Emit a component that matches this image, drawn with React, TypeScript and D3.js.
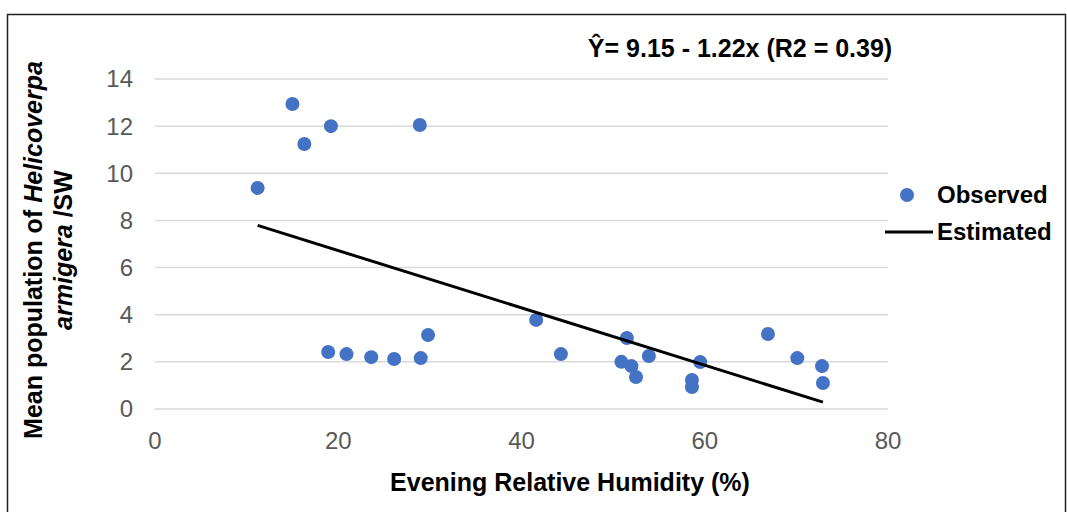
import React from "react";
import * as d3 from "d3";

// Evening relative humidity (%) against mean larval count per sweep
const humidity = [
  11.2, 15.0, 16.3, 19.2, 28.9, 18.9, 20.9, 23.6, 26.1, 29.0, 29.8, 41.6, 44.3,
  51.5, 50.9, 52.0, 52.5, 53.9, 58.6, 58.6, 59.5, 66.9, 70.1, 72.8, 72.9,
];
const population = [
  9.38, 12.94, 11.24, 12.0, 12.05, 2.42, 2.33, 2.2, 2.12, 2.16, 3.14, 3.78, 2.33,
  3.01, 2.0, 1.82, 1.36, 2.25, 1.23, 0.93, 1.99, 3.18, 2.16, 1.82, 1.1,
];

// Fitted line end points
const estimatedX = [11.2, 72.9];
const estimatedY = [7.79, 0.29];

const xTicks = [0, 20, 40, 60, 80];
const yTicks = [0, 2, 4, 6, 8, 10, 12, 14];

const equation = "\u0176= 9.15 - 1.22x (R2 = 0.39)";
const xTitle = "Evening Relative Humidity (%)";
const legendLabels = ["Observed", "Estimated"];

const W = 1067;
const H = 512;
const FONT = "'Liberation Sans', Arial, sans-serif";
const BLUE = "#4472C4";

export default function App() {
  const x = d3.scaleLinear().domain([0, 80]).range([155, 888]);
  const y = d3.scaleLinear().domain([0, 14]).range([409, 79]);
  const line = d3
    .line<number>()
    .x((d) => x(d))
    .y((_, i) => y(estimatedY[i]));

  return (
    <svg
      width={W}
      height={H}
      style={{ position: "absolute", left: 0, top: 0, background: "#fff" }}
      fontFamily={FONT}
    >
      <rect x={0} y={0} width={W} height={H} fill="#fff" />
      <rect x={7.5} y={14.5} width={1058} height={520} fill="none" stroke="#222" strokeWidth={1.5} />

      {/* horizontal gridlines */}
      {yTicks.map((t) => (
        <line key={t} x1={x(0)} x2={x(80)} y1={y(t)} y2={y(t)} stroke="#d9d9d9" strokeWidth={1.5} />
      ))}

      {/* y tick labels */}
      {yTicks.map((t) => (
        <text key={t} x={133} y={y(t)} dy="0.35em" textAnchor="end" fontSize={24} fill="#595959">
          {t}
        </text>
      ))}

      {/* x tick labels */}
      {xTicks.map((t) => (
        <text key={t} x={x(t)} y={449} textAnchor="middle" fontSize={24} fill="#595959">
          {t}
        </text>
      ))}

      {/* observed points */}
      {humidity.map((h, i) => (
        <circle key={i} cx={x(h)} cy={y(population[i])} r={7} fill={BLUE} />
      ))}

      {/* estimated line */}
      <path d={line(estimatedX) || ""} fill="none" stroke="#000" strokeWidth={3} />

      {/* equation */}
      <text x={740} y={57} textAnchor="middle" fontSize={25} fontWeight="bold" fill="#000">
        {equation}
      </text>

      {/* axis titles */}
      <text x={570} y={491} textAnchor="middle" fontSize={25} fontWeight="bold" fill="#000">
        {xTitle}
      </text>
      <g transform="translate(42,250) rotate(-90)">
        <text x={0} y={0} textAnchor="middle" fontSize={25} fontWeight="bold" fill="#000">
          Mean population of <tspan fontStyle="italic">Helicoverpa</tspan>
        </text>
        <text x={0} y={30} textAnchor="middle" fontSize={25} fontWeight="bold" fill="#000">
          <tspan fontStyle="italic">armigera</tspan> /SW
        </text>
      </g>

      {/* legend */}
      <circle cx={907} cy={195} r={7} fill={BLUE} />
      <text x={937} y={203} fontSize={24} fontWeight="bold" fill="#000">
        {legendLabels[0]}
      </text>
      <line x1={885} x2={933} y1={232} y2={232} stroke="#000" strokeWidth={3} />
      <text x={937} y={240} fontSize={24} fontWeight="bold" fill="#000">
        {legendLabels[1]}
      </text>
    </svg>
  );
}
